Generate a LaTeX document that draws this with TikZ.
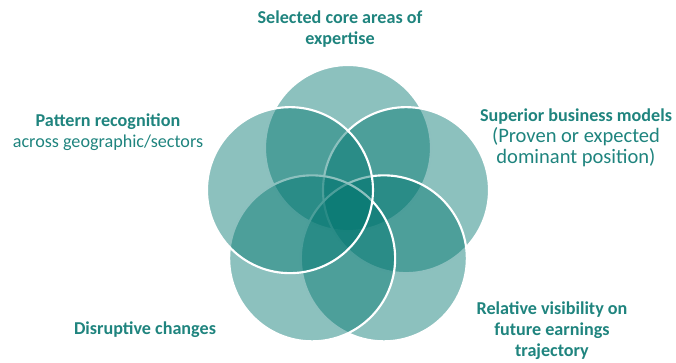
\documentclass[tikz,border=0pt]{standalone}
\usepackage{fontspec}
\setmainfont{Carlito}
\usepackage{tikz}
\definecolor{ringteal}{RGB}{0,117,111}
\definecolor{txtteal}{RGB}{31,132,126}
\tikzset{
  ring/.style={fill=ringteal,fill opacity=.45,draw=white,draw opacity=1,line width=1.6pt},
  label/.style={text=txtteal,align=center,inner sep=0pt,font=\fontsize{13.6}{15.75}\selectfont},
  sub/.style={font=\fontsize{15.4}{16.2}\selectfont}
}
\begin{document}
\begin{tikzpicture}[x=.75pt,y=.75pt]
  \useasboundingbox (-348,-154) rectangle (328,209);
   \coordinate (Mid) at (0,0);
   \coordinate (Ctop) at (90:61);
   \coordinate (Cur) at (18:61);
   \coordinate (Clr) at (-54:61);
   \coordinate (Cll) at (234:61);
   \coordinate (Cul) at (162:61);
  % rings, drawn top first and upper left last
  \foreach \c in {Ctop,Cur,Clr,Cll,Cul}{%
    \draw[ring] (\c) circle[radius=83];
  }
  \node[label] (sel) at (-8,179.5) {\textbf{Selected core areas of}\\\textbf{expertise}};
  \node[label] (pat) at (-240,77) {\textbf{Pattern recognition}\\across geographic/sectors};
  \node[label] (sup) at (228,71) {\textbf{Superior business models}\\{\fontsize{15.4}{21}\selectfont(Proven or expected}\\{\fontsize{15.4}{21}\selectfont dominant position)}};
  \node[label] (dis) at (-203,-121) {\textbf{Disruptive changes}};
  \node[label] (rel) at (204,-122) {\textbf{Relative visibility on}\\\textbf{future earnings}\\\textbf{trajectory}};
\end{tikzpicture}
\end{document}
